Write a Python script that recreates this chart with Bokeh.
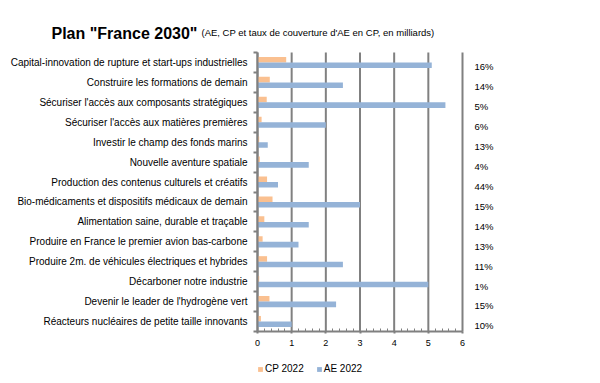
from bokeh.plotting import figure
from bokeh.models import (Range1d, FixedTicker, SingleIntervalTicker, LinearAxis,
                          Label, Legend, LegendItem, ColumnDataSource)
from bokeh.transform import dodge
from bokeh.embed import file_html
from bokeh.resources import INLINE

categories = [
    "Capital-innovation de rupture et start-ups industrielles",
    "Construire les formations de demain",
    "Sécuriser l'accès aux composants stratégiques",
    "Sécuriser l'accès aux matières premières",
    "Investir le champ des fonds marins",
    "Nouvelle aventure spatiale",
    "Production des contenus culturels et créatifs",
    "Bio-médicaments et dispositifs médicaux de demain",
    "Alimentation saine, durable et traçable",
    "Produire en France le premier avion bas-carbone",
    "Produire 2m. de véhicules électriques et hybrides",
    "Décarboner notre industrie",
    "Devenir le leader de l'hydrogène vert",
    "Réacteurs nucléaires de petite taille innovants",
]
ae_2022 = [5.1, 2.5, 5.5, 2.0, 0.3, 1.5, 0.6, 3.0, 1.5, 1.2, 2.5, 5.0, 2.3, 1.0]
cp_2022 = [0.84, 0.36, 0.27, 0.12, 0.05, 0.07, 0.28, 0.44, 0.2, 0.15, 0.28, 0.05, 0.35, 0.1]
taux = ["16%", "14%", "5%", "6%", "13%", "4%", "44%", "15%", "14%", "13%", "11%", "1%", "15%", "10%"]
x_ticks = [0, 1, 2, 3, 4, 5, 6]

FONT = "Liberation Sans"
GRID = "#808080"
ORANGE = "#FAC090"
BLUE = "#95B3D7"

# canvas and plotting-area layout (pixels)
W, H = 592, 375
PL, PR, PT, PB = 257, 462, 52, 331

n = len(categories)
idx = list(range(n))
x0, x1 = x_ticks[0], x_ticks[-1]
y_top, y_bot = -0.5, n - 0.5
sx = (x1 - x0) / (PR - PL)
sy = (y_bot - y_top) / (PB - PT)
xr = Range1d(x0 - PL * sx, x1 + (W - PR) * sx)
yr = Range1d(y_bot + (H - PB) * sy, y_top - PT * sy)

src = ColumnDataSource(dict(idx=idx, ae=ae_2022, cp=cp_2022))
grid_src = ColumnDataSource(dict(x=x_ticks, y0=[y_top] * len(x_ticks), y1=[y_bot] * len(x_ticks)))

p = figure(width=W, height=H, x_range=xr, y_range=yr, output_backend="svg",
           toolbar_location=None, min_border=0)
p.outline_line_color = None
p.xgrid.visible = False
p.ygrid.visible = False

# vertical gridlines limited to the plotting area
p.segment(x0="x", y0="y0", x1="x", y1="y1", source=grid_src, line_color=GRID, line_width=2)

r_cp = p.hbar(y=dodge("idx", -0.14, range=p.y_range), right="cp", left=0, height=0.28,
              source=src, fill_color=ORANGE, line_color=None)
r_ae = p.hbar(y=dodge("idx", 0.14, range=p.y_range), right="ae", left=0, height=0.28,
              source=src, fill_color=BLUE, line_color=None)

# x axis
xa = p.xaxis[0]
xa.fixed_location = y_bot
xa.bounds = (x0, x1)
xa.ticker = SingleIntervalTicker(interval=1, num_minor_ticks=5)
xa.axis_line_color = GRID
xa.axis_line_width = 2
xa.major_tick_in = 0
xa.major_tick_out = 2
xa.major_tick_line_color = GRID
xa.major_tick_line_width = 2
xa.minor_tick_in = 3
xa.minor_tick_out = 0
xa.minor_tick_line_color = GRID
xa.minor_tick_line_width = 1
xa.major_label_text_font = FONT
xa.major_label_text_font_size = "9px"
xa.major_label_text_color = "black"
xa.major_label_standoff = 6

# left axis (categories)
ya = p.yaxis[0]
ya.fixed_location = x0
ya.bounds = (y_top, y_bot)
ya.ticker = FixedTicker(ticks=idx, minor_ticks=[k - 0.5 for k in range(n + 1)])
ya.major_label_overrides = {i: c for i, c in enumerate(categories)}
ya.axis_line_color = GRID
ya.axis_line_width = 2
ya.major_tick_in = 0
ya.major_tick_out = 0
ya.minor_tick_in = 0
ya.minor_tick_out = 4
ya.minor_tick_line_color = GRID
ya.minor_tick_line_width = 2
ya.major_label_text_font = FONT
ya.major_label_text_font_size = "10px"
ya.major_label_text_color = "black"
ya.major_label_standoff = 6

# right axis (coverage rates), labels sit slightly below each category centre
off = 0.22
p.extra_y_ranges = {"pct": Range1d(yr.start - off, yr.end - off)}
ra = LinearAxis(y_range_name="pct", ticker=FixedTicker(ticks=idx), fixed_location=x1)
ra.major_label_overrides = {i: t for i, t in enumerate(taux)}
ra.axis_line_color = None
ra.major_tick_line_color = None
ra.minor_tick_line_color = None
ra.major_label_text_font = FONT
ra.major_label_text_font_size = "9.5px"
ra.major_label_text_color = "black"
ra.major_label_standoff = 6
p.add_layout(ra, "right")

# titles
t1 = Label(x=51, y=H - 33, x_units="screen", y_units="screen", text='Plan "France 2030"',
           text_font=FONT, text_font_size="16px", text_font_style="bold",
           text_color="black", text_baseline="alphabetic")
t2 = Label(x=201, y=H - 32, x_units="screen", y_units="screen",
           text="(AE, CP et taux de couverture d'AE en CP, en milliards)",
           text_font=FONT, text_font_size="9.5px", text_color="black",
           text_baseline="alphabetic")
p.add_layout(t1)
p.add_layout(t2)

legend = Legend(items=[LegendItem(label="CP 2022", renderers=[r_cp]),
                       LegendItem(label="AE 2022", renderers=[r_ae])],
                orientation="horizontal", location=(PL, H - 374),
                glyph_width=6, glyph_height=6, label_standoff=2, spacing=12,
                padding=0, margin=0, border_line_color=None, background_fill_alpha=0,
                label_text_font=FONT, label_text_font_size="10px",
                label_text_color="black", label_height=10, label_width=20)
p.add_layout(legend)

open("out.html", "w").write(file_html(p, INLINE))
